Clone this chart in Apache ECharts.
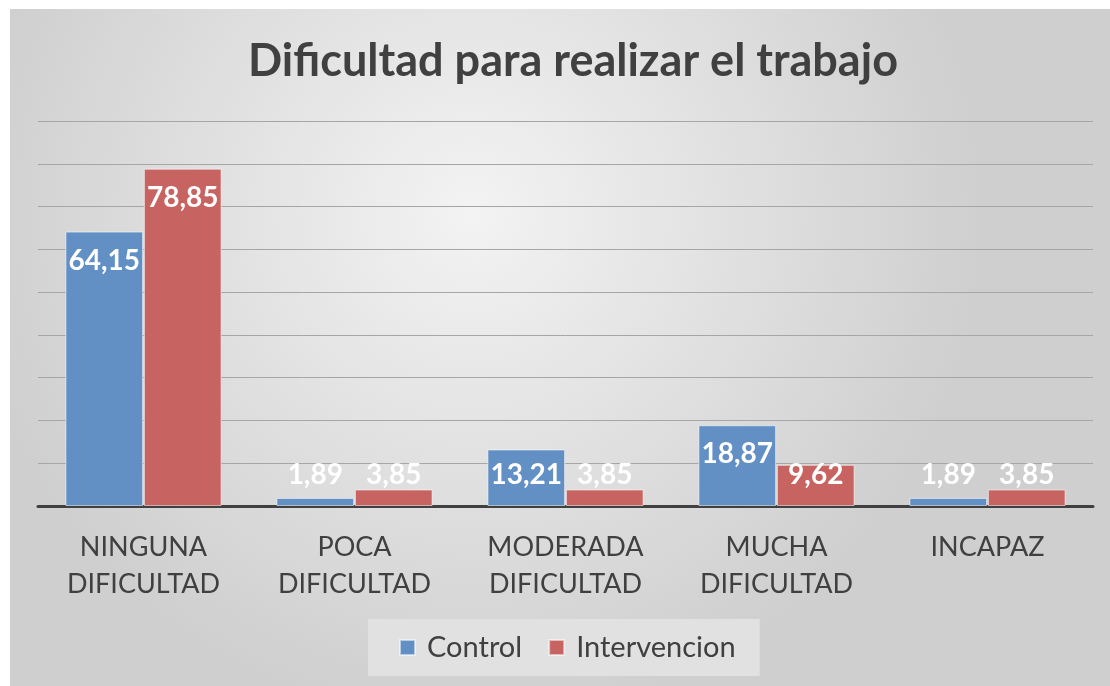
<!DOCTYPE html>
<html><head><meta charset="utf-8">
<script src="https://cdn.jsdelivr.net/npm/echarts@6/dist/echarts.min.js"></script>
<style>html,body{margin:0;padding:0;background:#fff;}#c{width:1110px;height:686px;}</style>
</head><body><div id="c"></div>
<script>
const title = 'Dificultad para realizar el trabajo';
const categories = ['NINGUNA\nDIFICULTAD', 'POCA\nDIFICULTAD', 'MODERADA\nDIFICULTAD', 'MUCHA\nDIFICULTAD', 'INCAPAZ'];
const seriesNames = ['Control', 'Intervencion'];
const controlValues = [64.15, 1.89, 13.21, 18.87, 1.89];
const intervencionValues = [78.85, 3.85, 3.85, 9.62, 3.85];
const colors = ['#6290c5', '#c76461'];
const FONT = 'Lato, "Open Sans", sans-serif';

function items(vals) {
  return vals.map(v => ({
    value: v,
    label: v >= 14.5 ? { position: 'insideTop', distance: 14 } : { position: 'insideBottom', distance: 16 }
  }));
}
function mkSeries(name, vals, color) {
  return {
    name, type: 'bar', data: items(vals), barGap: '1%', barCategoryGap: '26%',
    itemStyle: { color, borderColor: 'rgba(255,255,255,0.55)', borderWidth: 1 },
    label: {
      show: true, color: '#ffffff', fontFamily: FONT, fontWeight: 'bold', fontSize: 28, lineHeight: 30,
      formatter: p => String(p.value.toFixed(2)).replace('.', ',')
    }
  };
}

const chart = echarts.init(document.getElementById('c'), null, { renderer: 'canvas' });
chart.setOption({
  backgroundColor: '#ffffff',
  animation: false,
  graphic: [{
    type: 'rect', z: -10, silent: true,
    shape: { x: 10, y: 9, width: 1100, height: 677 },
    style: {
      fill: new echarts.graphic.RadialGradient(0.42, 0.3, 0.75, [
        { offset: 0, color: '#f3f3f3' },
        { offset: 1, color: '#cfcfcf' }
      ])
    }
  }],
  title: {
    text: title, left: 243, top: 34,
    textStyle: { fontFamily: FONT, fontWeight: 'bold', fontSize: 45, color: '#404040' }
  },
  legend: {
    data: seriesNames, bottom: 10, left: 368,
    backgroundColor: '#e1e1e1', padding: [14, 24, 14, 31], itemGap: 26,
    itemWidth: 15, itemHeight: 15, icon: 'rect',
    textStyle: { fontFamily: FONT, fontSize: 29, color: '#404040', padding: [0, 0, 0, 7] }
  },
  grid: { left: 38, right: 17, top: 121, bottom: 180 },
  xAxis: {
    type: 'category', data: categories,
    axisLine: { lineStyle: { color: '#404040', width: 3 } },
    axisTick: { show: false },
    axisLabel: { fontFamily: FONT, fontSize: 27, color: '#404040', lineHeight: 37, margin: 23 }
  },
  yAxis: {
    type: 'value', min: 0, max: 90, interval: 10,
    axisLabel: { show: false }, axisLine: { show: false }, axisTick: { show: false },
    splitLine: { lineStyle: { color: '#a6a6a6', width: 1 } }
  },
  series: [mkSeries(seriesNames[0], controlValues, colors[0]), mkSeries(seriesNames[1], intervencionValues, colors[1])]
});
</script></body></html>
